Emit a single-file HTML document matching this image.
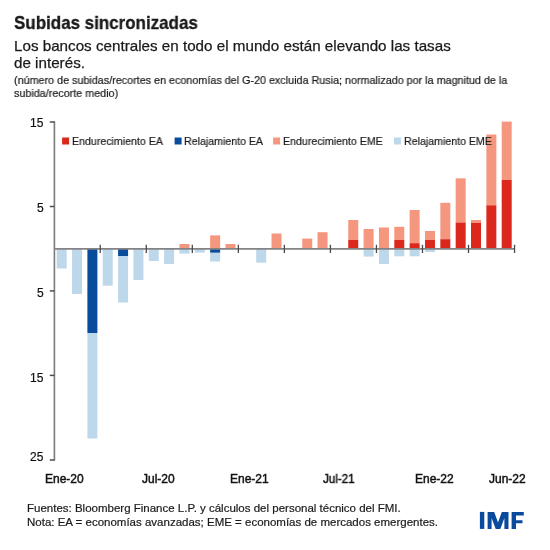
<!DOCTYPE html>
<html><head><meta charset="utf-8">
<style>
html,body{margin:0;padding:0;background:#fff;}
body{width:550px;height:550px;position:relative;overflow:hidden;font-family:"Liberation Sans",sans-serif;color:#1a1a1a;}
.t{position:absolute;white-space:nowrap;transform-origin:0 0;line-height:1;will-change:transform;}
.ax{-webkit-text-stroke:0.45px #111;color:#111;}
.ay{-webkit-text-stroke:0.2px #111;color:#111;}
svg{position:absolute;left:0;top:0;}
</style></head><body>
<svg width="550" height="550" viewBox="0 0 550 550">
<rect x="56.70" y="249.00" width="10.0" height="19.50" fill="#bed8eb"/>
<rect x="72.05" y="249.00" width="10.0" height="45.00" fill="#bed8eb"/>
<rect x="87.39" y="249.00" width="10.0" height="84.00" fill="#0a4c9c"/>
<rect x="87.39" y="333.00" width="10.0" height="105.50" fill="#bed8eb"/>
<rect x="102.74" y="249.00" width="10.0" height="36.70" fill="#bed8eb"/>
<rect x="118.08" y="249.00" width="10.0" height="7.00" fill="#0a4c9c"/>
<rect x="118.08" y="256.00" width="10.0" height="46.50" fill="#bed8eb"/>
<rect x="133.43" y="249.00" width="10.0" height="31.00" fill="#bed8eb"/>
<rect x="148.77" y="249.00" width="10.0" height="12.00" fill="#bed8eb"/>
<rect x="164.12" y="249.00" width="10.0" height="15.00" fill="#bed8eb"/>
<rect x="179.46" y="244.00" width="10.0" height="5.00" fill="#f5977f"/>
<rect x="179.46" y="249.00" width="10.0" height="4.60" fill="#bed8eb"/>
<rect x="194.81" y="249.00" width="10.0" height="3.60" fill="#bed8eb"/>
<rect x="210.15" y="235.40" width="10.0" height="13.60" fill="#f5977f"/>
<rect x="210.15" y="249.00" width="10.0" height="3.80" fill="#0a4c9c"/>
<rect x="210.15" y="252.80" width="10.0" height="8.70" fill="#bed8eb"/>
<rect x="225.50" y="244.00" width="10.0" height="5.00" fill="#f5977f"/>
<rect x="256.19" y="249.00" width="10.0" height="13.70" fill="#bed8eb"/>
<rect x="271.53" y="233.50" width="10.0" height="15.50" fill="#f5977f"/>
<rect x="302.22" y="238.60" width="10.0" height="10.40" fill="#f5977f"/>
<rect x="317.56" y="232.20" width="10.0" height="16.80" fill="#f5977f"/>
<rect x="348.25" y="220.00" width="10.0" height="20.00" fill="#f5977f"/>
<rect x="348.25" y="240.00" width="10.0" height="9.00" fill="#dc281c"/>
<rect x="363.60" y="229.00" width="10.0" height="20.00" fill="#f5977f"/>
<rect x="363.60" y="249.00" width="10.0" height="7.60" fill="#bed8eb"/>
<rect x="378.94" y="227.50" width="10.0" height="21.50" fill="#f5977f"/>
<rect x="378.94" y="249.00" width="10.0" height="15.00" fill="#bed8eb"/>
<rect x="394.29" y="226.80" width="10.0" height="13.20" fill="#f5977f"/>
<rect x="394.29" y="240.00" width="10.0" height="9.00" fill="#dc281c"/>
<rect x="394.29" y="249.00" width="10.0" height="7.30" fill="#bed8eb"/>
<rect x="409.63" y="210.00" width="10.0" height="33.20" fill="#f5977f"/>
<rect x="409.63" y="243.20" width="10.0" height="5.80" fill="#dc281c"/>
<rect x="409.63" y="249.00" width="10.0" height="7.30" fill="#bed8eb"/>
<rect x="424.98" y="231.00" width="10.0" height="9.00" fill="#f5977f"/>
<rect x="424.98" y="240.00" width="10.0" height="9.00" fill="#dc281c"/>
<rect x="424.98" y="249.00" width="10.0" height="3.00" fill="#bed8eb"/>
<rect x="440.32" y="202.80" width="10.0" height="36.40" fill="#f5977f"/>
<rect x="440.32" y="239.20" width="10.0" height="9.80" fill="#dc281c"/>
<rect x="455.67" y="178.30" width="10.0" height="44.20" fill="#f5977f"/>
<rect x="455.67" y="222.50" width="10.0" height="26.50" fill="#dc281c"/>
<rect x="471.01" y="220.00" width="10.0" height="2.80" fill="#f5977f"/>
<rect x="471.01" y="222.80" width="10.0" height="26.20" fill="#dc281c"/>
<rect x="486.36" y="134.50" width="10.0" height="70.80" fill="#f5977f"/>
<rect x="486.36" y="205.30" width="10.0" height="43.70" fill="#dc281c"/>
<rect x="501.70" y="121.60" width="10.0" height="58.40" fill="#f5977f"/>
<rect x="501.70" y="180.00" width="10.0" height="69.00" fill="#dc281c"/>
<line x1="54.4" y1="121.3" x2="54.4" y2="460.7" stroke="#7a7a7a" stroke-width="1.6"/>
<line x1="49.8" y1="122" x2="54.4" y2="122" stroke="#4e4e4e" stroke-width="1.5"/>
<line x1="49.8" y1="206.5" x2="54.4" y2="206.5" stroke="#4e4e4e" stroke-width="1.5"/>
<line x1="49.8" y1="290.9" x2="54.4" y2="290.9" stroke="#4e4e4e" stroke-width="1.5"/>
<line x1="49.8" y1="375.4" x2="54.4" y2="375.4" stroke="#4e4e4e" stroke-width="1.5"/>
<line x1="49.8" y1="460" x2="54.4" y2="460" stroke="#4e4e4e" stroke-width="1.5"/>
<line x1="54.4" y1="248.8" x2="514.5" y2="248.8" stroke="#838383" stroke-width="1.8"/>
<line x1="100.24" y1="244.8" x2="100.24" y2="253" stroke="#4a4a4a" stroke-width="1.3"/>
<line x1="146.27" y1="244.8" x2="146.27" y2="253" stroke="#4a4a4a" stroke-width="1.3"/>
<line x1="192.31" y1="244.8" x2="192.31" y2="253" stroke="#4a4a4a" stroke-width="1.3"/>
<line x1="238.34" y1="244.8" x2="238.34" y2="253" stroke="#4a4a4a" stroke-width="1.3"/>
<line x1="284.38" y1="244.8" x2="284.38" y2="253" stroke="#4a4a4a" stroke-width="1.3"/>
<line x1="330.41" y1="244.8" x2="330.41" y2="253" stroke="#4a4a4a" stroke-width="1.3"/>
<line x1="376.44" y1="244.8" x2="376.44" y2="253" stroke="#4a4a4a" stroke-width="1.3"/>
<line x1="422.48" y1="244.8" x2="422.48" y2="253" stroke="#4a4a4a" stroke-width="1.3"/>
<line x1="468.52" y1="244.8" x2="468.52" y2="253" stroke="#4a4a4a" stroke-width="1.3"/>
<line x1="514.55" y1="244.8" x2="514.55" y2="253" stroke="#4a4a4a" stroke-width="1.3"/>
<rect x="62.1" y="137.5" width="7" height="7" fill="#dc281c"/>
<rect x="174.6" y="137.5" width="7" height="7" fill="#0a4c9c"/>
<rect x="273.1" y="137.5" width="7" height="7" fill="#f5977f"/>
<rect x="393.9" y="137.5" width="7" height="7" fill="#bed8eb"/>
<g fill="#0a4a9c">
<rect x="479.9" y="511.9" width="4.4" height="17"/>
<polygon points="487.6,511.9 494.2,511.9 498,522.4 501.8,511.9 508.5,511.9 508.5,528.9 504.4,528.9 504.4,518 500.3,528.9 495.7,528.9 491.6,518 491.6,528.9 487.6,528.9"/>
<polygon points="511.6,511.9 523.8,511.9 523.8,515.4 516,515.4 516,520.2 522.5,520.2 522.5,523.3 516,523.3 516,528.9 511.6,528.9"/>
</g>
</svg>
<div class="t" id="title" style="left:14.0px;top:13.5px;font-size:18.5px;font-weight:bold;-webkit-text-stroke:0.3px #111;transform:scaleX(0.917);">Subidas sincronizadas</div>
<div class="t" id="sub1" style="left:14.0px;top:37.8px;font-size:15px;font-weight:normal;-webkit-text-stroke:0.25px #1a1a1a;transform:scaleX(1.013);">Los bancos centrales en todo el mundo están elevando las tasas</div>
<div class="t" id="sub2" style="left:14.0px;top:54.8px;font-size:15px;font-weight:normal;-webkit-text-stroke:0.25px #1a1a1a;transform:scaleX(1.013);">de interés.</div>
<div class="t" id="n1" style="left:14.0px;top:74.7px;font-size:11px;font-weight:normal;-webkit-text-stroke:0.2px #1a1a1a;transform:scaleX(0.979);">(número de subidas/recortes en economías del G-20 excluida Rusia; normalizado por la magnitud de la</div>
<div class="t" id="n2" style="left:14.0px;top:88.4px;font-size:11px;font-weight:normal;-webkit-text-stroke:0.2px #1a1a1a;transform:scaleX(0.979);">subida/recorte medio)</div>
<div class="t ay" id="yl15" style="left:30px;top:117px;font-size:12px;font-weight:normal;transform:scaleX(1.0);">15</div>
<div class="t ay" id="yl5" style="left:37px;top:202px;font-size:12px;font-weight:normal;transform:scaleX(1.0);">5</div>
<div class="t ay" id="yln5" style="left:37px;top:287px;font-size:12px;font-weight:normal;transform:scaleX(1.0);">5</div>
<div class="t ay" id="yln15" style="left:30px;top:372px;font-size:12px;font-weight:normal;transform:scaleX(1.0);">15</div>
<div class="t ay" id="yln25" style="left:29.5px;top:451px;font-size:12px;font-weight:normal;transform:scaleX(1.0);">25</div>
<div class="t ax" id="x0" style="left:44.5px;top:473px;font-size:12px;font-weight:normal;transform:scaleX(1.0);">Ene-20</div>
<div class="t ax" id="x1" style="left:142px;top:473px;font-size:12px;font-weight:normal;transform:scaleX(1.0);">Jul-20</div>
<div class="t ax" id="x2" style="left:229.5px;top:473px;font-size:12px;font-weight:normal;transform:scaleX(1.0);">Ene-21</div>
<div class="t ax" id="x3" style="left:323.4px;top:473px;font-size:12px;font-weight:normal;transform:scaleX(0.97);">Jul-21</div>
<div class="t ax" id="x4" style="left:414.6px;top:473px;font-size:12px;font-weight:normal;transform:scaleX(1.0);">Ene-22</div>
<div class="t ax" id="x5" style="left:489px;top:473px;font-size:12px;font-weight:normal;transform:scaleX(1.0);">Jun-22</div>
<div class="t" id="lg1" style="left:72.0px;top:135.6px;font-size:11.3px;font-weight:normal;-webkit-text-stroke:0.2px #1a1a1a;transform:scaleX(0.94);">Endurecimiento EA</div>
<div class="t" id="lg2" style="left:184.1px;top:135.6px;font-size:11.3px;font-weight:normal;-webkit-text-stroke:0.2px #1a1a1a;transform:scaleX(0.94);">Relajamiento EA</div>
<div class="t" id="lg3" style="left:282.5px;top:135.6px;font-size:11.3px;font-weight:normal;-webkit-text-stroke:0.2px #1a1a1a;transform:scaleX(0.94);">Endurecimiento EME</div>
<div class="t" id="lg4" style="left:404.0px;top:135.6px;font-size:11.3px;font-weight:normal;-webkit-text-stroke:0.2px #1a1a1a;transform:scaleX(0.94);">Relajamiento EME</div>
<div class="t" id="f1" style="left:27.0px;top:502.5px;font-size:11.5px;font-weight:normal;-webkit-text-stroke:0.2px #1a1a1a;transform:scaleX(1.0);">Fuentes: Bloomberg Finance L.P. y cálculos del personal técnico del FMI.</div>
<div class="t" id="f2" style="left:27.0px;top:517.3px;font-size:11.5px;font-weight:normal;-webkit-text-stroke:0.2px #1a1a1a;transform:scaleX(1.0);">Nota: EA = economías avanzadas; EME = economías de mercados emergentes.</div>
</body></html>
